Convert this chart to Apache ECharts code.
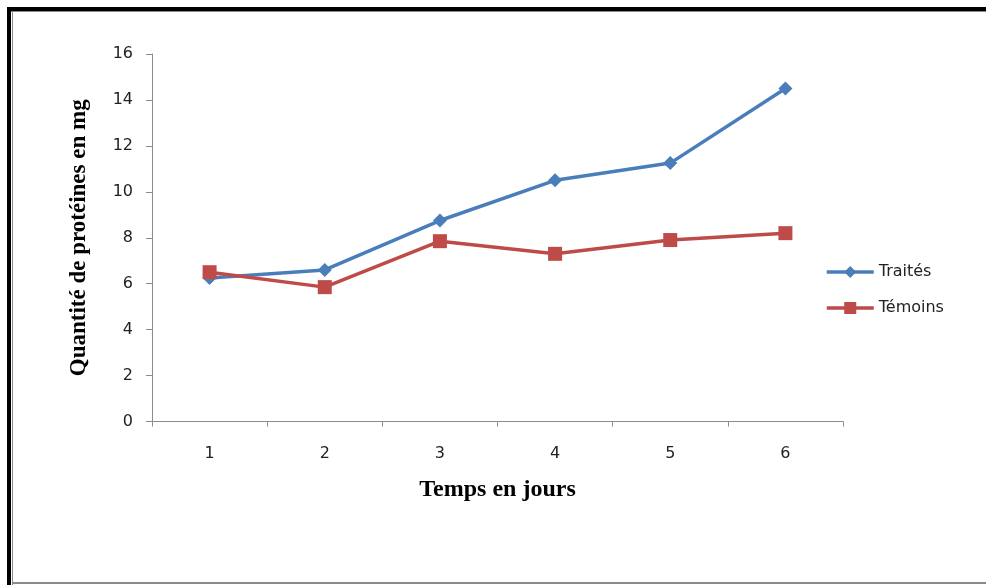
<!DOCTYPE html>
<html>
<head>
<meta charset="utf-8">
<script src="https://cdn.jsdelivr.net/npm/echarts@6/dist/echarts.min.js"></script>
<style>
html,body{margin:0;padding:0;background:#fff;}
#chart{width:986px;height:585px;}
</style>
</head>
<body>
<div id="chart"></div>
<script>
const categories = ['1', '2', '3', '4', '5', '6'];
const traites = [6.25, 6.6, 8.75, 10.5, 11.25, 14.5];
const temoins = [6.5, 5.85, 7.85, 7.3, 7.9, 8.2];
const yTicks = { min: 0, max: 16, interval: 2 };

const chart = echarts.init(document.getElementById('chart'), null, { renderer: 'canvas' });
chart.setOption({
  backgroundColor: '#ffffff',
  animation: false,
  graphic: [
    { type: 'rect', shape: { x: 7, y: 7, width: 979, height: 4 }, style: { fill: '#000' }, silent: true },
    { type: 'rect', shape: { x: 7, y: 7, width: 4, height: 578 }, style: { fill: '#000' }, silent: true },
    { type: 'rect', shape: { x: 11, y: 11, width: 975, height: 1 }, style: { fill: '#8a8a8a' }, silent: true },
    { type: 'rect', shape: { x: 12, y: 11, width: 1, height: 574 }, style: { fill: '#8a8a8a' }, silent: true },
    { type: 'rect', shape: { x: 12, y: 582, width: 974, height: 2 }, style: { fill: '#8a8a8a' }, silent: true }
  ],
  grid: { left: 152, right: 143, top: 54, bottom: 163.5, containLabel: false },
  legend: {
    orient: 'vertical',
    left: 825,
    top: 264,
    padding: 0,
    itemGap: 20,
    itemWidth: 47,
    itemHeight: 15,
    lineStyle: { width: 3.5 },
    textStyle: { fontFamily: 'DejaVu Sans', fontSize: 16, color: '#222' },
    data: ['Traités', 'Témoins']
  },
  xAxis: {
    type: 'category',
    data: categories,
    boundaryGap: true,
    name: 'Temps en jours',
    nameLocation: 'middle',
    nameGap: 56,
    nameTextStyle: { fontFamily: 'Liberation Serif', fontWeight: 'bold', fontSize: 24, color: '#000' },
    axisLine: { lineStyle: { color: '#8c8c8c', width: 1 } },
    axisTick: { show: true, alignWithLabel: false, length: 5, lineStyle: { color: '#8c8c8c' } },
    axisLabel: { margin: 24, fontFamily: 'DejaVu Sans', fontSize: 16, color: '#222' },
    splitLine: { show: false }
  },
  yAxis: {
    type: 'value',
    min: yTicks.min,
    max: yTicks.max,
    interval: yTicks.interval,
    name: 'Quantité de protéines en mg',
    nameLocation: 'middle',
    nameGap: 61,
    nameRotate: 90,
    nameTextStyle: { fontFamily: 'Liberation Serif', fontWeight: 'bold', fontSize: 23, color: '#000' },
    axisLine: { show: true, lineStyle: { color: '#8c8c8c', width: 1 } },
    axisTick: { show: true, length: 6, lineStyle: { color: '#8c8c8c' } },
    axisLabel: { margin: 19, fontFamily: 'DejaVu Sans', fontSize: 16, color: '#222' },
    splitLine: { show: false }
  },
  series: [
    {
      name: 'Traités',
      type: 'line',
      data: traites,
      symbol: 'diamond',
      symbolSize: 14,
      showAllSymbol: true,
      lineStyle: { color: '#4a7ebb', width: 3.5 },
      itemStyle: { color: '#4a7ebb' }
    },
    {
      name: 'Témoins',
      type: 'line',
      data: temoins,
      symbol: 'rect',
      symbolSize: 14,
      showAllSymbol: true,
      lineStyle: { color: '#be4b48', width: 3.5 },
      itemStyle: { color: '#be4b48' }
    }
  ]
});
</script>
</body>
</html>
